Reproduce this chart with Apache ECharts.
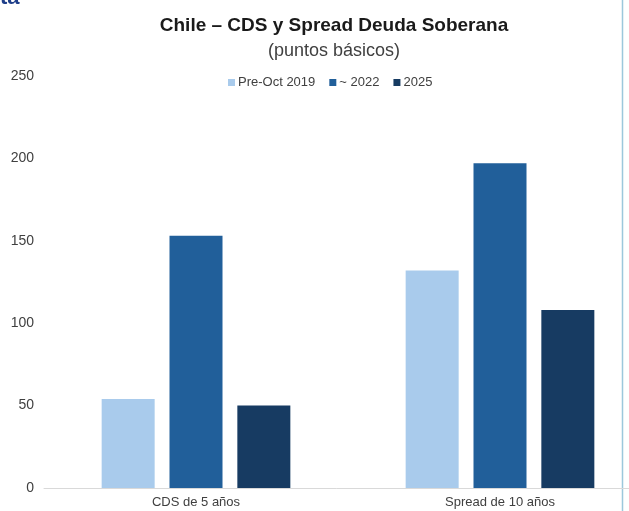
<!DOCTYPE html>
<html>
<head>
<meta charset="utf-8">
<script src="https://cdn.jsdelivr.net/npm/echarts@6/dist/echarts.min.js"></script>
<style>
html,body{margin:0;padding:0;background:#fff;}
#c{width:629px;height:511px;}
</style>
</head>
<body>
<div id="c"></div>
<script>
const categories = ['CDS de 5 años', 'Spread de 10 años'];
const seriesNames = ['Pre-Oct 2019', '~ 2022', '2025'];
const preOct2019 = [54, 132];
const y2022 = [153, 197];
const y2025 = [50, 108];
const yTicks = [0, 50, 100, 150, 200, 250];

const colors = ['#A9CBEC', '#215F9A', '#173B62'];
const font = '"Liberation Sans", Arial, sans-serif';

const chart = echarts.init(document.getElementById('c'), null, {renderer: 'canvas'});
const dataSets = [preOct2019, y2022, y2025];

chart.setOption({
  backgroundColor: '#ffffff',
  animation: false,
  title: [{
    text: 'Chile – CDS y Spread Deuda Soberana',
    left: 329, top: 11, textAlign: 'center',
    textStyle: {fontFamily: font, fontWeight: 'bold', fontSize: 19, color: '#1a1a1a'}
  }, {
    text: '(puntos básicos)',
    left: 329, top: 37, textAlign: 'center',
    textStyle: {fontFamily: font, fontWeight: 'normal', fontSize: 18, color: '#404040'}
  }],
  legend: {
    data: seriesNames,
    left: 223, top: 71,
    icon: 'rect', itemWidth: 7, itemHeight: 7, itemGap: 14,
    textStyle: {fontFamily: font, fontSize: 13, color: '#404040', padding: [0, 0, 0, -2]}
  },
  grid: {left: 44, right: -23, top: 76, bottom: 23, containLabel: false, outerBoundsMode: 'none'},
  xAxis: {
    type: 'category',
    data: categories,
    axisLine: {show: true, lineStyle: {color: '#d9d9d9', width: 1}},
    axisTick: {show: false},
    axisLabel: {fontFamily: font, fontSize: 13, color: '#404040', margin: 8}
  },
  yAxis: {
    type: 'value',
    min: yTicks[0], max: yTicks[yTicks.length - 1], interval: 50,
    axisLine: {show: false},
    axisTick: {show: false},
    splitLine: {show: false},
    axisLabel: {fontFamily: font, fontSize: 14, color: '#404040', margin: 10}
  },
  series: seriesNames.map((n, i) => ({
    name: n,
    type: 'bar',
    data: dataSets[i],
    barWidth: 53,
    barGap: '28%',
    itemStyle: {color: colors[i]}
  })),
  graphic: [{
    type: 'line',
    shape: {x1: 622.5, y1: 0, x2: 622.5, y2: 511},
    style: {stroke: '#9cc8dc', lineWidth: 1.5}
  }, {
    type: 'text',
    left: 0, top: -13,
    style: {text: 'ta', fontFamily: font, fontWeight: 'bold', fontSize: 22, fill: '#1f3f8a'}
  }]
});
</script>
</body>
</html>
